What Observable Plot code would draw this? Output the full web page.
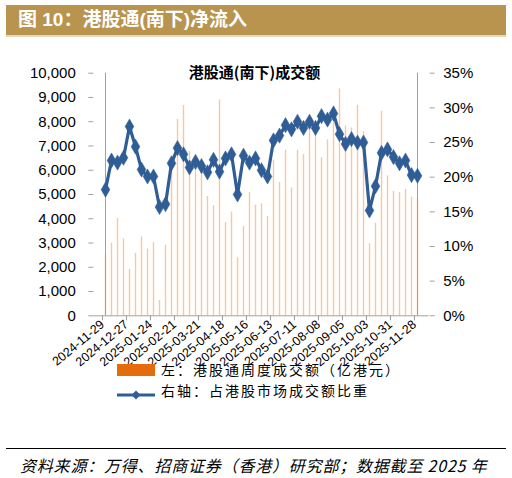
<!DOCTYPE html>
<html><head><meta charset="utf-8">
<script src="https://cdn.jsdelivr.net/npm/d3@7"></script>
<script src="https://cdn.jsdelivr.net/npm/@observablehq/plot@0.6"></script>
<style>
body{margin:0;background:#fff;width:512px;height:478px;position:relative;overflow:hidden;font-family:"Liberation Sans","Noto Sans CJK SC",sans-serif;}
#chart{position:absolute;left:0;top:0;}
.titlebar{position:absolute;left:6px;top:5px;width:500px;height:30px;background:#B8944F;color:#fff;font:bold 19px "Liberation Sans","Noto Sans CJK SC";line-height:30px;box-shadow:0 2px 0 #E6D8BD;}
.titlebar span{margin-left:12px;}
.legend{position:absolute;left:117px;font:14px/21px "Noto Sans CJK SC";letter-spacing:2px;color:#000;display:flex;align-items:center;}
.sw{width:38px;height:12px;margin-right:6px;position:relative;}
.footline{position:absolute;left:6px;top:448px;width:500px;height:1px;background:#000;}
.foot{position:absolute;left:20px;top:453px;font:italic 16px "Noto Sans CJK SC";letter-spacing:0.8px;color:#000;white-space:nowrap;}
</style></head>
<body>
<div id="chart"></div>
<div class="titlebar"><span>图 10：港股通(南下)净流入</span></div>
<div class="legend" style="top:359px"><div class="sw" style="background:#E46C0A"></div>左：港股通周度成交额（亿港元）</div>
<div class="legend" style="top:380px"><div class="sw"><svg width="38" height="12"><line x1="0" y1="6" x2="38" y2="6" stroke="#2F5D95" stroke-width="3"/><path d="M19 1.5 L23.5 6 L19 10.5 L14.5 6Z" fill="#2F5D95"/></svg></div>右轴：占港股市场成交额比重</div>
<div class="footline"></div>
<div class="foot">资料来源：万得、招商证券（香港）研究部；数据截至 2025 年</div>
<script>
const weeks = ["2024-11-29","2024-12-06","2024-12-13","2024-12-20","2024-12-27",
"2025-01-03","2025-01-10","2025-01-17","2025-01-24","2025-01-31",
"2025-02-07","2025-02-14","2025-02-21","2025-02-28",
"2025-03-07","2025-03-14","2025-03-21","2025-03-28",
"2025-04-04","2025-04-11","2025-04-18","2025-04-25",
"2025-05-02","2025-05-09","2025-05-16","2025-05-23","2025-05-30",
"2025-06-06","2025-06-13","2025-06-20","2025-06-27",
"2025-07-04","2025-07-11","2025-07-18","2025-07-25",
"2025-08-01","2025-08-08","2025-08-15","2025-08-22","2025-08-29",
"2025-09-05","2025-09-12","2025-09-19","2025-09-26",
"2025-10-03","2025-10-10","2025-10-17","2025-10-24","2025-10-31",
"2025-11-07","2025-11-14","2025-11-21","2025-11-28"];
const tickLabels = ["2024-11-29","2024-12-27","2025-01-24","2025-02-21","2025-03-21","2025-04-18","2025-05-16","2025-06-13","2025-07-11","2025-08-08","2025-09-05","2025-10-03","2025-10-31","2025-11-28"];
// 左：港股通周度成交额（亿港元）
const volume = [2480,2990,4010,3170,1910,2570,3250,2750,3010,630,
2910,6470,8090,8670,6770,6200,6000,4920,4540,8900,
3850,4280,2390,3690,5090,4560,4610,4100,6420,5500,
6830,5270,6830,6650,7800,7630,6510,7250,8200,9350,
7830,7740,8680,7580,2970,3820,8430,5770,5130,5080,
5210,4890,4850];
// 右轴：占港股市场成交额比重 (%)
const share = [18.2,22.4,22.1,22.8,27.3,24.4,21.1,20.1,20.1,15.7,
16.1,22.0,24.2,23.3,21.4,22.2,21.6,20.7,22.5,20.8,
22.7,23.3,17.5,23.1,22.1,22.7,21.0,20.1,25.3,26.0,
27.5,26.9,28.0,27.1,28.0,27.1,28.8,28.3,29.2,26.2,
24.8,25.5,25.0,25.0,15.2,18.7,23.5,24.0,22.9,22.0,
22.4,20.3,20.2];
const leftTicks = [0,1000,2000,3000,4000,5000,6000,7000,8000,9000,10000];
const pctTicks = [0,5,10,15,20,25,30,35];
const leftMax = 10000, pctMax = 35;
const toLeft = p => p * leftMax / pctMax;

const rows = weeks.map((w,i)=>({week:w, vol:volume[i], pct:share[i]}));
const axisColor = "#A0A0A0";
const blue = "#2F5D95";

const chart = Plot.plot({
  width:512, height:400,
  marginLeft:93.3, marginRight:83.3, marginTop:72.7, marginBottom:84.7,
  style:{fontFamily:"Liberation Sans, Arial, sans-serif", fontSize:"15px", background:"transparent", color:"#000"},
  x:{type:"point", domain:weeks, padding:0, label:null},
  y:{domain:[0,leftMax], label:null},
  marks:[
    Plot.ruleX(rows, {x:"week", y1:0, y2:"vol", stroke:"#F9C6A0", strokeWidth:1.4}),
    Plot.ruleX([weeks[0], weeks[weeks.length-1]], {stroke:axisColor, strokeWidth:1}),
    Plot.ruleY([0], {stroke:axisColor, strokeWidth:1}),
    Plot.axisY(leftTicks, {anchor:"left", label:null, tickSize:5, tickPadding:13, stroke:axisColor, fill:"#000", tickFormat:d3.format(","), fontSize:15}),
    Plot.axisY(pctTicks.map(toLeft), {anchor:"right", label:null, tickSize:5, tickPadding:9, stroke:axisColor, fill:"#000", tickFormat:d=>Math.round(d*pctMax/leftMax)+"%", fontSize:15}),
    Plot.axisX(tickLabels, {label:null, tickSize:5, tickRotate:-40, tickPadding:2, dx:-3, stroke:axisColor, fill:"#000", fontSize:12.5}),
    Plot.line(rows, {x:"week", y:d=>toLeft(d.pct), stroke:blue, strokeWidth:3.2}),
    Plot.dot(rows, {x:"week", y:d=>toLeft(d.pct), symbol:"diamond", r:4.6, fill:blue, stroke:blue, strokeWidth:0.5}),
    Plot.text(["港股通(南下)成交额"], {frameAnchor:"top", lineAnchor:"middle", dx:-7, fontSize:15, fontWeight:"bold", fontFamily:"Noto Sans CJK SC", fill:"#000"})
  ]
});
document.getElementById("chart").appendChild(chart);
</script>
</body></html>
